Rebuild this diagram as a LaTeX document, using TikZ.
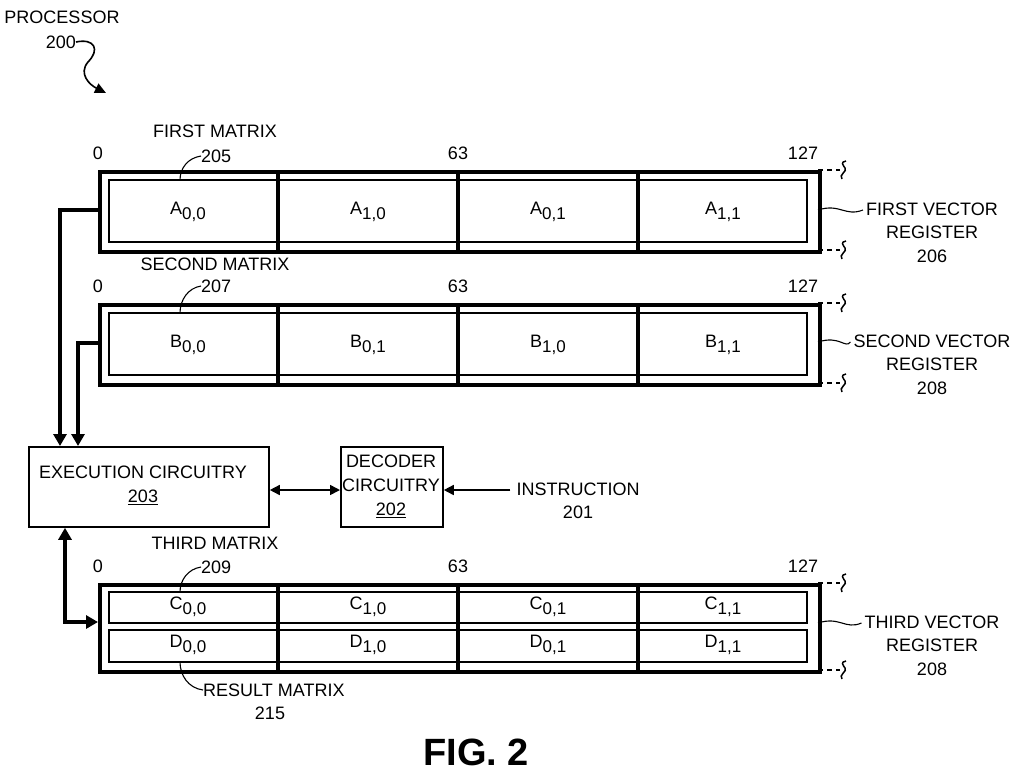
\documentclass[tikz,border=0pt]{standalone}
\usepackage{fontspec}
\setmainfont{Liberation Sans}
\usetikzlibrary{arrows.meta,calc}
\newcommand{\sbx}[1]{\raisebox{-5pt}{\fontsize{17}{19}\selectfont #1}}
\begin{document}
\begin{tikzpicture}[x=1pt,y=-1pt,
  every node/.style={font=\fontsize{18}{21}\selectfont, inner sep=0pt},
  reg/.style={draw, line width=4pt, minimum width=720pt, anchor=north west},
  div/.style={line width=3.6pt},
  conn/.style={line width=3.6pt, -{Triangle[length=12pt,width=13pt]}},
  thn/.style={line width=1.1pt},
  box/.style={draw, line width=1.8pt, anchor=north west},
  dsh/.style={line width=1.8pt, dash pattern=on 5pt off 4pt}]
\useasboundingbox (0,0) rectangle (1024,777);
% processor label
\node (proc) at (62,17) {PROCESSOR};
\node[anchor=east] (p200) at (76,42) {200};
\draw[thn, line width=1.6pt, -{Triangle[length=11pt,width=10pt]}] (p200.east) .. controls (95,38) and (100,50) .. (88,62) .. controls (78,74) and (90,85) .. (106,93);
% registers
\foreach \n/\t/\h in {r1/170/80, r2/303/80, r3/583/87}{
  \node[reg, minimum height=\h pt] (\n) at (98,\t) {};
  \foreach \x in {278,458,638} \draw[div] (\x,\t) -- (\x,\t+\h);
  \node (\n z) at (98,\t-17) {0};
  \node (\n m) at (458,\t-17) {63};
  \node (\n e) at (803,\t-17) {127};
  \foreach \yy [count=\k] in {\t, \t+\h}{
    \coordinate (\n d\k) at (818,\yy);
    \draw[dsh] (\n d\k) -- ++(22,0);
    \draw[thn, line width=1.5pt] (842,\yy+9) .. controls (838,\yy+5) and (848,\yy+1) .. (845,\yy-2) .. controls (843,\yy-5) and (840,\yy-8) .. (846,\yy-9);
  }
}
\draw[line width=1.8pt] (109,180) rectangle (807,242);
\draw[line width=1.8pt] (109,313) rectangle (807,375);
\draw[line width=1.8pt] (109,592) rectangle (807,623);
\draw[line width=1.8pt] (109,630) rectangle (807,662);
% cell labels
\foreach \x/\l [count=\i] in {188/{A\sbx{0,0}},368/{A\sbx{1,0}},548/{A\sbx{0,1}},723/{A\sbx{1,1}}}
  \node (a\i) at (\x,212) {\l};
\foreach \x/\l [count=\i] in {188/{B\sbx{0,0}},368/{B\sbx{0,1}},548/{B\sbx{1,0}},723/{B\sbx{1,1}}}
  \node (b\i) at (\x,345) {\l};
\foreach \x/\l [count=\i] in {188/{C\sbx{0,0}},368/{C\sbx{1,0}},548/{C\sbx{0,1}},723/{C\sbx{1,1}}}
  \node (c\i) at (\x,607) {\l};
\foreach \x/\l [count=\i] in {188/{D\sbx{0,0}},368/{D\sbx{1,0}},548/{D\sbx{0,1}},723/{D\sbx{1,1}}}
  \node (d\i) at (\x,645) {\l};
% matrix labels
\node (m1) at (215,131) {FIRST MATRIX};
\node[anchor=west] (m1n) at (201,156) {205};
\draw[thn] (m1n.west) .. controls (188,158) and (180,168) .. (180,180);
\node (m2) at (215,264) {SECOND MATRIX};
\node[anchor=west] (m2n) at (201,286) {207};
\draw[thn] (m2n.west) .. controls (188,288) and (180,300) .. (180,313);
\node (m3) at (215,543) {THIRD MATRIX};
\node[anchor=west] (m3n) at (201,567) {209};
\draw[thn] (m3n.west) .. controls (188,569) and (180,580) .. (180,592);
\node[anchor=west] (m4) at (203,690) {RESULT MATRIX};
\node (m4n) at (270,713) {215};
\draw[thn] (180,662) .. controls (180,675) and (188,688) .. (m4.west);
% register labels
\foreach \n/\y/\a/\b in {r1/209/FIRST VECTOR/206, r2/341/SECOND VECTOR/208, r3/622/THIRD VECTOR/208}{
  \node (\n l) at (932,\y) {\a};
  \node (\n r) at (932,\y+23) {REGISTER};
  \node (\n n) at (932,\y+47) {\b};
  \draw[thn] (818,\y+1) .. controls (840,\y-6) and (845,\y+8) .. ($(\n l.west)+(-3,1)$);
}
% execution & decoder
\node[box, minimum width=240pt, minimum height=80pt] (exec) at (28,446) {};
\node[align=center] (exect) at (143,485) {EXECUTION CIRCUITRY\\[3pt]\underline{203}};
\node[box, minimum width=102pt, minimum height=80pt] (dec) at (340,446) {};
\node[align=center] (dect) at (391,486) {DECODER\\[3pt]CIRCUITRY\\[3pt]\underline{202}};
\node (ins) at (578,489) {INSTRUCTION};
\node (insn) at (578,512) {201};
\draw[line width=1.6pt, {Triangle[length=10pt,width=10pt]}-{Triangle[length=10pt,width=10pt]}] (exec.east |- 0,490) -- (dec.west |- 0,490);
\draw[line width=1.6pt, -{Triangle[length=10pt,width=10pt]}] ($(ins.west |- 0,490)+(-6,0)$) -- (dec.east |- 0,490);
% connectors
\draw[conn] (r1.west |- 0,210) -- (60,210) -- (exec.north -| 60,0);
\draw[conn] (r2.west |- 0,343) -- (78,343) -- (exec.north -| 78,0);
\draw[line width=3.6pt, {Triangle[length=12pt,width=13pt]}-{Triangle[length=12pt,width=13pt]}] (exec.south -| 65,0) -- (65,622) -- (r3.west |- 0,622);
% fig
\node[font=\fontsize{38}{44}\selectfont\bfseries] (fig) at (476,752) {FIG. 2};
\end{tikzpicture}
\end{document}
